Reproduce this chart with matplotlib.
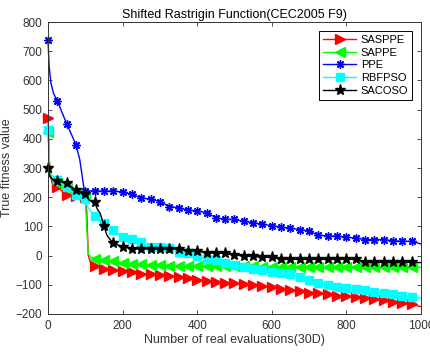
import numpy as np
import matplotlib
matplotlib.use('Agg')
import matplotlib.pyplot as plt

plt.rcParams['font.family'] = ['Liberation Sans', 'DejaVu Sans']

# SASPPE (red)
sasppe_x = [0, 5, 12, 25, 50, 75, 100, 104, 108, 113] + list(range(125, 1001, 25))
sasppe_y = [470, 280, 245, 235, 208, 203, 200, 150, 0, -20,
            -37, -45, -49, -54, -57, -62, -64, -66, -70, -72, -78, -82, -87, -89, -94, -95,
            -98, -102, -105, -108, -114, -119, -122, -127, -129, -132, -137, -139, -143, -146,
            -150, -153, -158, -161, -167, -175]

# SAPPE (green)
sappe_x = [0, 5, 12, 25, 50, 75, 100, 103, 108, 115] + list(range(125, 1001, 25))
sappe_y = [422, 290, 260, 248, 232, 215, 205, 120, 5, -5,
           -12, -15, -20, -26, -28, -30, -32, -33, -34, -35, -35, -36, -36, -36, -37, -37,
           -37, -37, -38, -38, -38, -38, -38, -38, -39, -39, -39, -39, -39, -40,
           -40, -40, -40, -40, -40, -40]

# PPE (blue)
ppe_x = [0, 3, 8, 15, 25, 50, 75, 85, 92, 97] + list(range(100, 1001, 25))
ppe_y = [740, 650, 590, 555, 530, 452, 380, 330, 270, 225,
         222, 221, 221, 221, 218, 210, 197, 194, 185, 168, 164, 156, 153, 147, 130, 124,
         124, 117, 113, 107, 103, 97, 94, 89, 84, 70, 67, 67, 63, 60,
         55, 55, 55, 51, 49, 49, 40]

# RBFPSO (cyan)
rbfpso_x = [0, 4, 10, 25, 50, 75, 100, 105] + list(range(125, 1001, 25))
rbfpso_y = [430, 310, 275, 258, 235, 207, 195, 170,
            134, 110, 88, 63, 56, 48, 31, 28, 25, 14, 8, -3, -11, -15, -26, -32,
            -38, -45, -51, -56, -60, -64, -73, -83, -95, -100, -106, -110, -113, -119,
            -123, -129, -131, -139, -143, -146]

# SACOSO (black)
sacoso_x = [0, 5, 12, 25, 50, 75, 100, 110, 125, 132, 140, 150, 158, 165] + list(range(175, 1001, 25))
sacoso_y = [300, 270, 262, 256, 247, 225, 210, 190, 183, 160, 145, 102, 70, 58,
            42, 31, 24, 23, 23, 23, 23, 23, 16, 16, 10, 8, 8, 2, -1, -3, -6, -6,
            -13, -13, -13, -13, -13, -13, -13, -13, -13, -23, -23, -23, -23, -23, -23, -24]

series = [
    ('SASPPE', sasppe_x, sasppe_y, 'red', '>', 6.5),
    ('SAPPE', sappe_x, sappe_y, '#00ff00', '<', 6.5),
    ('PPE', ppe_x, ppe_y, 'blue', (8, 2, 0), 6),
    ('RBFPSO', rbfpso_x, rbfpso_y, 'cyan', 's', 5.5),
    ('SACOSO', sacoso_x, sacoso_y, 'black', '*', 8),
]

fig = plt.figure(figsize=(4.3, 3.55), dpi=100)
ax = fig.add_axes([0.1116, 0.1155, 0.8674, 0.8225])

for name, xs, ys, color, marker, ms in series:
    xs = np.array(xs)
    marks = [i for i, v in enumerate(xs) if v % 25 == 0 and v < 1000]
    ax.plot(xs, ys, color=color, lw=1.0, marker=marker, markevery=marks,
            markersize=ms, markerfacecolor=color, markeredgecolor=color,
            markeredgewidth=1.0, label=name, clip_on=False)

ax.set_xlim(0, 1000)
ax.set_ylim(-200, 800)
ax.set_xticks(np.arange(0, 1001, 200))
ax.set_yticks(np.arange(-200, 801, 100))
ax.tick_params(direction='in', length=3, width=0.6, labelsize=8.5, colors='#333333',
               top=True, right=True, pad=4)
for s in ax.spines.values():
    s.set_linewidth(0.7)
    s.set_color('#333333')

ax.set_title('Shifted Rastrigin Function(CEC2005 F9)', fontsize=9, pad=3)
ax.set_xlabel('Number of real evaluations(30D)', fontsize=9, color='#333333', labelpad=2)
ax.set_ylabel('True fitness value', fontsize=9, color='#333333', labelpad=2)

leg = ax.legend(loc='upper right', fontsize=8, fancybox=False, framealpha=1,
                edgecolor='black', handlelength=3.0, borderpad=0.35,
                labelspacing=0.25, handletextpad=0.4, borderaxespad=0.8)
leg.get_frame().set_linewidth(0.7)

fig.savefig('out.png', dpi=100)
